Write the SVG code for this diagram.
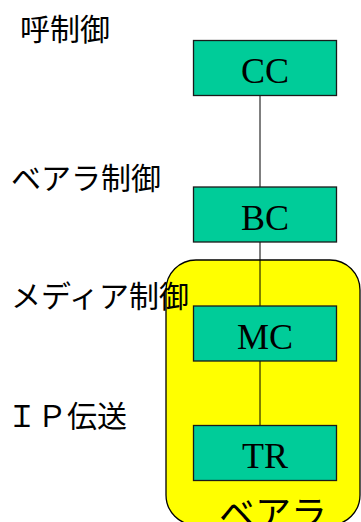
<svg xmlns="http://www.w3.org/2000/svg" width="361" height="522" viewBox="0 0 361 522">
<style>
.lbl{font-family:"Noto Sans CJK JP","Noto Sans CJK SC",sans-serif;font-size:30px;fill:#000}
.box{fill:#00CC99;stroke:#1a1a1a;stroke-width:1.3}
.bt{font-family:"Liberation Serif","Times New Roman",serif;font-size:36px;fill:#000;text-anchor:middle}
</style>
<rect width="361" height="522" fill="#fff"/>
<g id="bearer">
<rect x="166" y="260" width="194" height="265" rx="30" ry="30" fill="#FFFF00" stroke="#000" stroke-width="1.3"/>
<text class="lbl" x="219" y="527" style="font-size:36px">ベアラ</text>
</g>
<g id="labels">
<text class="lbl" x="20" y="40">呼制御</text>
<text class="lbl" x="11" y="189">ベアラ制御</text>
<text class="lbl" x="11" y="307">メディア制御</text>
<text class="lbl" x="7" y="427">ＩＰ伝送</text>
</g>
<g id="connectors">
<line x1="260" y1="95" x2="260" y2="425" stroke="#000" stroke-width="1"/>
</g>
<g id="CC"><rect class="box" x="193.5" y="40.5" width="143" height="55"/><text class="bt" x="265" y="83">CC</text></g>
<g id="BC"><rect class="box" x="193.5" y="187" width="143" height="55"/><text class="bt" x="265" y="230">BC</text></g>
<g id="MC"><rect class="box" x="193.5" y="306" width="143" height="55"/><text class="bt" x="265" y="349">MC</text></g>
<g id="TR"><rect class="box" x="193.5" y="425.5" width="143" height="55"/><text class="bt" x="265" y="468">TR</text></g>
</svg>
